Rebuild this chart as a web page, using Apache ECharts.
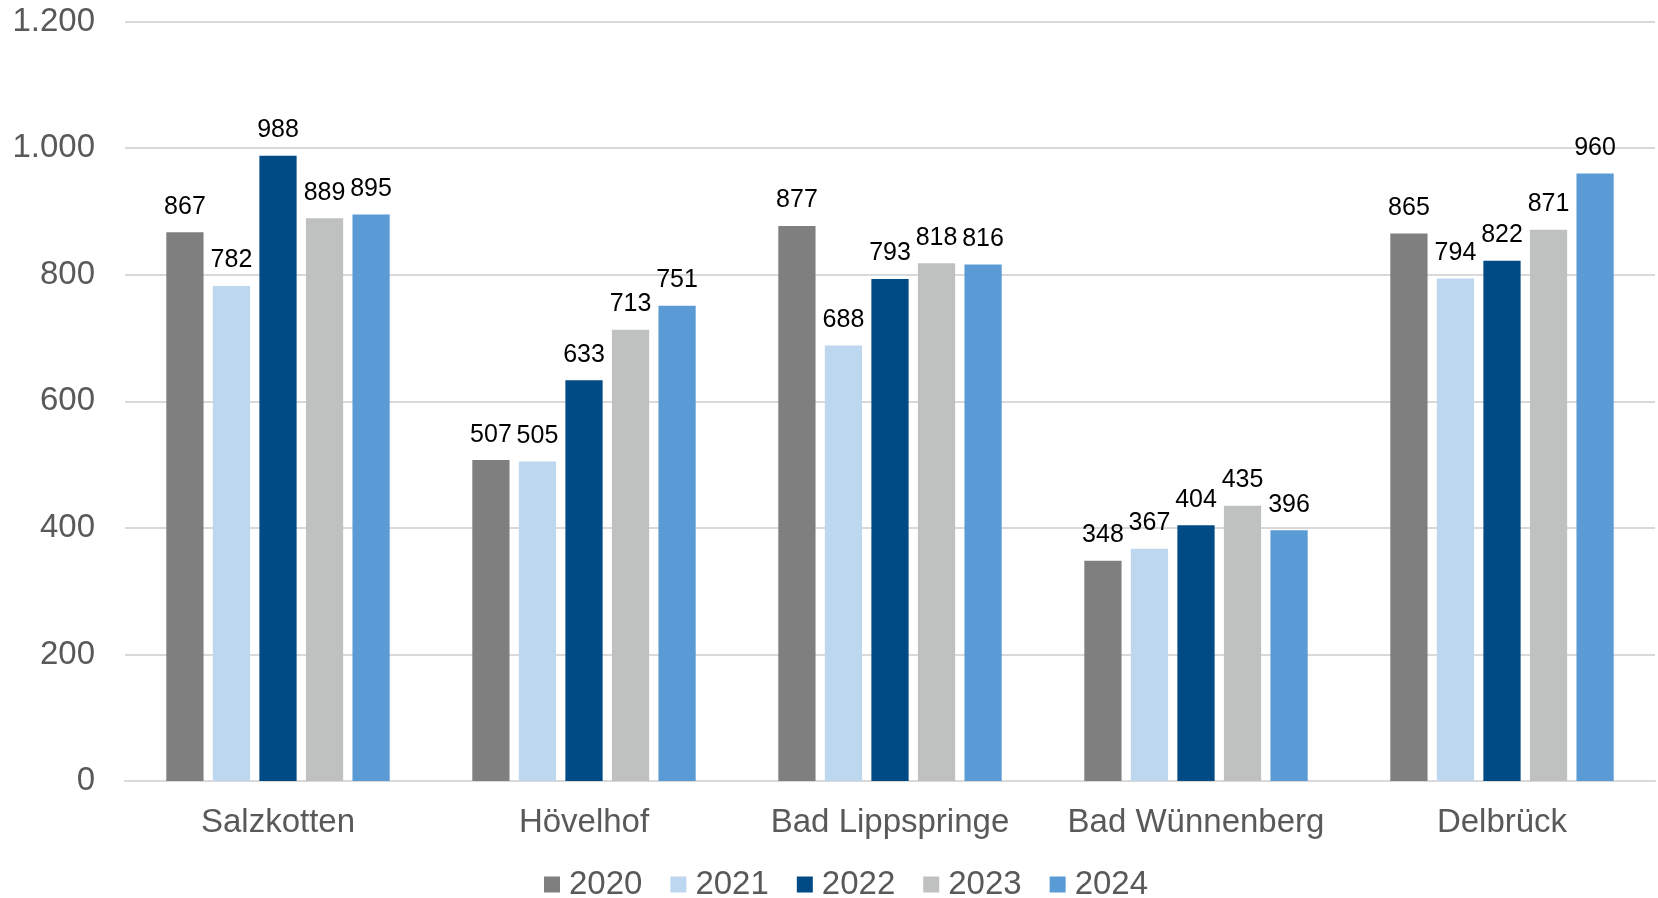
<!DOCTYPE html>
<html>
<head>
<meta charset="utf-8">
<script src="https://cdn.jsdelivr.net/npm/echarts@6/dist/echarts.min.js"></script>
<style>
html,body{margin:0;padding:0;background:#fff;}
#c{width:1658px;height:898px;}
</style>
</head>
<body>
<div id="c"></div>
<script>
const categories = ['Salzkotten', 'Hövelhof', 'Bad Lippspringe', 'Bad Wünnenberg', 'Delbrück'];
const years = ['2020', '2021', '2022', '2023', '2024'];
const v2020 = [867, 507, 877, 348, 865];
const v2021 = [782, 505, 688, 367, 794];
const v2022 = [988, 633, 793, 404, 822];
const v2023 = [889, 713, 818, 435, 871];
const v2024 = [895, 751, 816, 396, 960];
const yTicks = [0, 200, 400, 600, 800, 1000, 1200];
const colors = ['#7f7f7f', '#bdd7ee', '#004a86', '#bfc0c0', '#5b9bd5'];

const seriesData = [v2020, v2021, v2022, v2023, v2024];
const FONT = '"Liberation Sans", Arial, sans-serif';

function fmt(v) {
  return String(v).replace(/\B(?=(\d{3})+(?!\d))/g, '.');
}

const chart = echarts.init(document.getElementById('c'), null, {renderer: 'canvas'});
chart.setOption({
  animation: false,
  backgroundColor: '#ffffff',
  textStyle: {fontFamily: FONT},
  grid: {left: 125, right: 3, top: 21.5, bottom: 117, containLabel: false},
  legend: {
    data: years,
    left: 539,
    top: 863,
    itemWidth: 16,
    itemHeight: 16,
    itemGap: 28,
    icon: 'rect',
    textStyle: {fontFamily: FONT, fontSize: 33, color: '#595959', padding: [0, 0, 0, 4]}
  },
  xAxis: {
    type: 'category',
    data: categories,
    axisLine: {show: true, lineStyle: {color: '#d9d9d9', width: 2}},
    axisTick: {show: false},
    axisLabel: {fontFamily: FONT, fontSize: 33, color: '#595959', margin: 25, interval: 0}
  },
  yAxis: {
    type: 'value',
    min: yTicks[0],
    max: yTicks[yTicks.length - 1],
    interval: 200,
    axisLine: {show: false},
    axisTick: {show: false},
    splitLine: {lineStyle: {color: '#d9d9d9', width: 2}},
    axisLabel: {fontFamily: FONT, fontSize: 33, color: '#595959', margin: 30, formatter: fmt}
  },
  series: years.map((y, i) => ({
    name: y,
    type: 'bar',
    data: seriesData[i],
    barGap: '25%',
    barCategoryGap: '27%',
    itemStyle: {color: colors[i]},
    label: {
      show: true,
      position: 'top',
      distance: 13,
      fontFamily: FONT,
      fontSize: 25,
      color: '#000000',
      formatter: p => fmt(p.value)
    }
  }))
});
</script>
</body>
</html>
